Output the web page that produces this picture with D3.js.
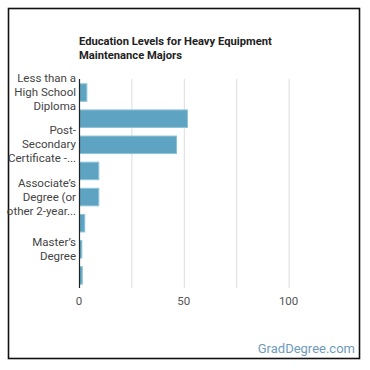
<!DOCTYPE html>
<html>
<head>
<meta charset="utf-8">
<script src="https://cdn.jsdelivr.net/npm/d3@7"></script>
<style>
  body { margin: 0; background: #fff; }
  svg { display: block; font-family: Roboto, "Noto Sans", sans-serif; }
</style>
</head>
<body>
<div id="chart"></div>
<script>
'use strict';

// chart data
const categories = [
    ['Less than a', 'High School', 'Diploma'],
    ['High School Diploma'],
    ['Post-', 'Secondary', 'Certificate -...'],
    ['Some College Courses'],
    ['Associate\u2019s', 'Degree (or', 'other 2-year...'],
    ['Bachelor\u2019s Degree'],
    ['Master\u2019s', 'Degree'],
    ['Doctorate']
];
const values = [3.5, 51.5, 46.3, 9.2, 9.2, 2.5, 1.1, 1.3];
const xTicks = [0, 25, 50, 75, 100];
const xTickLabels = ['0', '', '50', '', '100'];
const titleLines = ['Education Levels for Heavy Equipment', 'Maintenance Majors'];

const dims = { width: 370, height: 370, left: 79, top: 79, plotW: 262, plotH: 209 };

let svg = d3.select('#chart').append('svg')
    .attr('width', dims.width)
    .attr('height', dims.height);

// outer frame
svg.append('rect')
    .attr('x', 8.5).attr('y', 8.5)
    .attr('width', 351).attr('height', 350)
    .attr('fill', 'none')
    .attr('stroke', '#111')
    .attr('stroke-width', 1.6);

// title
svg.append('text')
    .attr('x', 79).attr('y', 45)
    .attr('font-size', 11.2)
    .attr('font-weight', 'bold')
    .attr('fill', '#222')
  .selectAll('tspan')
  .data(titleLines)
  .join('tspan')
    .attr('x', 79)
    .attr('dy', (d, i) => i ? 14 : 0)
    .text(d => d);

let x = d3.scaleLinear().domain([0, 125]).range([0, dims.plotW]);
let y = d3.scaleBand().domain(d3.range(categories.length)).range([0, dims.plotH]).paddingInner(0.33).paddingOuter(0.165);

let g = svg.append('g')
    .attr('transform', `translate(${dims.left}, ${dims.top})`);

// grid lines
g.append('g')
  .selectAll('line')
  .data(xTicks.slice(1))
  .join('line')
    .attr('x1', d => x(d) + 0.5).attr('x2', d => x(d) + 0.5)
    .attr('y1', 0).attr('y2', dims.plotH)
    .attr('stroke', '#ddd');

// x tick labels
g.append('g')
  .selectAll('text')
  .data(xTicks)
  .join('text')
    .attr('x', d => x(d))
    .attr('y', dims.plotH + 17)
    .attr('text-anchor', 'middle')
    .attr('font-size', 11.5)
    .attr('fill', '#555')
    .text((d, i) => xTickLabels[i]);

// bars
g.append('g')
  .selectAll('rect')
  .data(values)
  .join('rect')
    .attr('x', 0.5)
    .attr('y', (d, i) => y(i) + 0.5)
    .attr('width', d => x(d))
    .attr('height', y.bandwidth())
    .attr('fill', '#5ea3c1')
    .attr('stroke', '#8cc2d8')
    .attr('stroke-width', 1);

// y labels, every other category
let labels = g.append('g')
  .selectAll('text')
  .data(categories.map((c, i) => ({ lines: c, i: i })).filter(d => d.i % 2 === 0))
  .join('text')
    .attr('text-anchor', 'end')
    .attr('font-size', 11.5)
    .attr('fill', '#444');

labels.selectAll('tspan')
  .data(d => d.lines.map((t, k) => ({ t: t, k: k, n: d.lines.length, i: d.i })))
  .join('tspan')
    .attr('x', -3)
    .attr('y', d => y(d.i) + y.bandwidth() / 2 + (d.k - (d.n - 1) / 2) * 14 + 4)
    .text(d => d.t);

// y axis line
g.append('line')
    .attr('x1', 0.5).attr('x2', 0.5)
    .attr('y1', 0).attr('y2', dims.plotH)
    .attr('stroke', '#222')
    .attr('stroke-width', 1.2);

// watermark
svg.append('text')
    .attr('x', 355).attr('y', 353)
    .attr('text-anchor', 'end')
    .attr('font-size', 13)
    .attr('fill', '#6e9cbb')
    .text('GradDegree.com');
</script>
</body>
</html>
